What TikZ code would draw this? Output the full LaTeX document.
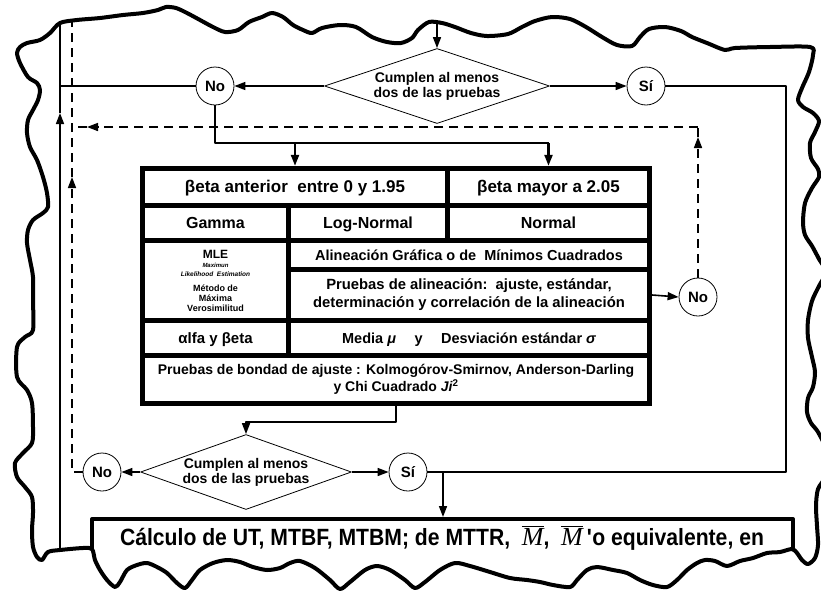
\documentclass[tikz,border=0pt]{standalone}
\usepackage{fontspec}
\setmainfont{Liberation Sans}
\newfontfamily\narrowsans[FakeStretch=0.9]{Liberation Sans}
\newfontfamily\timesfont{Liberation Serif}
\usetikzlibrary{shapes.geometric,arrows.meta}

\tikzset{
  cell/.style={fill=white,inner sep=0pt,align=center,font=\bfseries\fontsize{16}{18}\selectfont},
  single/.style={text height=12pt,text depth=2pt},
  decision/.style={diamond,draw,line width=0.8pt,aspect=3,inner sep=0pt,align=center,fill=white,
    font=\bfseries\fontsize{14}{15}\selectfont},
  answer/.style={circle,draw,line width=0.8pt,minimum size=38pt,inner sep=0pt,fill=white,
    font=\bfseries\fontsize{15}{15}\selectfont},
  flow/.style={line width=1.6pt},
  back/.style={line width=1.6pt,dash pattern=on 9pt off 6pt},
  tear/.style={line width=4pt,line join=round,line cap=round},
}

% torn outline of the excerpt
\newcommand{\tornpath}{plot[smooth cycle,tension=0.5] coordinates {
  (60,23) (77,20) (100,18) (123,15) (143,13) (158,10) (166,7) (176,8) (187,13) (200,20)
  (213,27) (225,32) (238,30) (249,22) (262,17) (272,13) (283,17) (293,25) (303,30) (312,33)
  (322,28) (340,25) (356,27) (372,37) (387,42) (401,43) (412,38) (418,30) (429,22) (442,23)
  (455,27) (471,33) (487,36) (508,34) (522,27) (535,21) (552,17) (570,19) (586,27) (602,37)
  (617,45) (632,46) (640,37) (649,29) (665,27) (681,31) (692,37) (707,43) (725,50) (735,48)
  (770,47) (810,47) (813,55) (809,72) (802,88) (798,100) (803,107) (813,113) (819,121)
  (815,132) (810,143) (811,158) (818,169) (819,177) (812,188) (805,203) (803,222) (805,235)
  (812,246) (819,259) (826,272) (819,286) (812,301) (808,320) (808,338) (812,357) (815,372)
  (813,387) (808,398) (807,412) (811,423) (818,432) (826,450) (826,475) (818,489) (816,506)
  (817,526) (818,545) (815,558) (808,564) (802,560) (797,553) (792,549) (780,552) (767,553)
  (753,558) (740,561) (727,566) (715,561) (705,560) (697,563) (687,570) (677,580) (667,587)
  (653,585) (640,580) (627,573) (613,570) (597,567) (587,570) (577,580) (570,587) (553,585)
  (540,582) (527,580) (510,578) (490,572) (470,566) (455,563) (440,570) (425,582) (415,588)
  (405,580) (390,570) (377,566) (365,570) (350,582) (340,589) (330,580) (315,568) (300,561)
  (290,563) (280,568) (267,570) (253,567) (240,562) (227,560) (213,563) (200,570) (192,580)
  (185,588) (177,583) (167,573) (157,567) (147,563) (137,565) (127,570) (120,582) (115,587)
  (107,580) (100,570) (95,560) (92,549) (83,548) (60,550) (48,552) (42,560) (37,557)
  (33,547) (32,530) (33,513) (32,497) (25,487) (17,477) (15,463) (23,453) (32,443) (33,427)
  (32,403) (27,390) (17,377) (17,347) (25,337) (33,330) (33,300) (33,277) (30,260) (27,243)
  (28,230) (33,220) (43,213) (48,207) (47,193) (43,177) (37,160) (30,147) (27,133) (28,120)
  (33,110) (38,100) (40,90) (37,83) (28,77) (20,63) (17,53) (20,47) (27,43) (40,40) (50,33)}}

\begin{document}
\begin{tikzpicture}[x=1pt,y=-1pt,>={Triangle[length=11pt,width=8pt]},line join=round]
\useasboundingbox (0,0) rectangle (821,592);
\begin{scope}
\clip \tornpath;
% upper decision
\node[decision,minimum width=225pt,minimum height=75pt] (dtop) at (437,86) {Cumplen al menos\\dos de las pruebas};
\node[answer] (notop) at (215,86) {No};
\node[answer] (sitop) at (646,86) {Sí};
\coordinate (topin) at (437,0);
\draw[flow,->] (topin) -- (dtop.north);
\draw[flow,->] (dtop.west) -- (notop.east);
\draw[flow,->] (dtop.east) -- (sitop.west);
% left return lines
\coordinate (lbot) at (60,600);
\draw[flow,->] (lbot) -- (60,113);
\draw[flow] (60,113) -- (60,0);
\draw[flow] (notop.west) -- (60,86);
% table
\node[fill=black,minimum width=512pt,minimum height=240pt,inner sep=0pt] (tab) at (396,286) {};
\node[cell,single,minimum width=300pt,minimum height=32pt,font=\bfseries\fontsize{17}{18}\selectfont] (betalow) at (295,187) {βeta anterior\ \ entre 0 y 1.95};
\node[cell,single,minimum width=197pt,minimum height=32pt,font=\bfseries\fontsize{17}{18}\selectfont] (betahigh) at (548.5,187) {βeta mayor a 2.05};
\node[cell,single,minimum width=141pt,minimum height=30pt] (gamma) at (215.5,223) {Gamma};
\node[cell,single,minimum width=154pt,minimum height=30pt] (lognorm) at (368,223) {Log-Normal};
\node[cell,single,minimum width=197pt,minimum height=30pt] (normal) at (548.5,223) {Normal};
\node[cell,minimum width=141pt,minimum height=75pt,font=\bfseries\fontsize{9}{10}\selectfont] (mle) at (215.5,280.5)
  {{\fontsize{12}{12}\selectfont MLE}\\[-1pt]{\itshape\fontsize{6}{6}\selectfont Maximun}\\[-1pt]%
   {\itshape\fontsize{6.5}{6.5}\selectfont Likelihood\ \ Estimation}\\[5pt]Método de\\Máxima\\Verosimilitud};
\node[cell,single,minimum width=356pt,minimum height=24pt,font=\bfseries\fontsize{14.5}{18}\selectfont] (grafica) at (469,255) {Alineación Gráfica o de\ \ Mínimos Cuadrados};
\node[cell,minimum width=356pt,minimum height=46pt,font=\bfseries\fontsize{14.8}{18}\selectfont] (pruebal) at (469,295) {Pruebas de alineación:\ \ ajuste, estándar,\\determinación y correlación de la alineación};
\node[cell,single,minimum width=141pt,minimum height=30pt,font=\bfseries\fontsize{15}{18}\selectfont] (alfabeta) at (215.5,338) {αlfa y βeta};
\node[cell,single,minimum width=356pt,minimum height=30pt,font=\bfseries\fontsize{14.5}{18}\selectfont] (media) at (469,338) {Media {\itshape μ}\quad\ y\quad\ Desviación estándar {\itshape σ}};
\node[cell,minimum width=502pt,minimum height=43pt,font=\bfseries\fontsize{14}{17}\selectfont] (bondad) at (396,379.5) {Pruebas de bondad de ajuste : Kolmogórov-Smirnov, Anderson-Darling\\y Chi Cuadrado {\itshape Ji}\textsuperscript{2}};
\coordinate (fork) at (215,143);
\draw[flow,line width=2.2pt] (notop.south) -- (fork) -- (fork -| betahigh.north);
\draw[flow,line width=2.2pt,->] (fork -| betalow.north) -- (betalow.north |- tab.north);
\draw[flow,line width=2.2pt,->] (fork -| betahigh.north) -- (betahigh.north |- tab.north);
% right rejection
\node[answer] (noright) at (698,297) {No};
\draw[flow,->] (pruebal.east -| tab.east) -- (noright.west);
\draw[back,->] (noright.north) -- (698,137);
\draw[back] (698,137) -- (698,127);
\draw[back,->] (698,127) -- (87,127);
\draw[back] (87,127) -- (72,127);
% lower decision
\node[decision,minimum width=207pt,minimum height=75pt] (dbot) at (246,472) {Cumplen al menos\\dos de las pruebas};
\node[answer] (nobot) at (102,472) {No};
\node[answer] (sibot) at (408,472) {Sí};
\draw[flow,->] (tab.south) -- ++(0,16) -| (dbot.north);
\draw[flow,->] (dbot.west) -- (nobot.east);
\draw[flow,->] (dbot.east) -- (sibot.west);
\draw[back,->] (nobot.west) -| (72,177);
\draw[back] (72,177) -- (72,0);
\draw[flow] (sitop.east) -| (786,472) -- (sibot.east);
% result box
\node[draw,line width=4pt,fill=white,minimum width=701pt,minimum height=100pt,anchor=north,inner sep=0pt] (calc) at (442.5,517) {};
\coordinate (drop) at (443,472);
\draw[flow,->] (drop) -- (drop |- calc.north);
\node[font=\narrowsans\bfseries\fontsize{23.5}{25}\selectfont] (calctext) at (442,538)
  {Cálculo de UT, MTBF, MTBM; de MTTR,\ \ {\timesfont\mdseries\itshape\fontsize{26}{26}\selectfont $\overline{\mbox{M}}$},\ \ {\timesfont\mdseries\itshape\fontsize{26}{26}\selectfont $\overline{\mbox{M}}$}\,\textquotesingle o equivalente, en};
\end{scope}
\draw[tear] \tornpath;
\end{tikzpicture}
\end{document}
